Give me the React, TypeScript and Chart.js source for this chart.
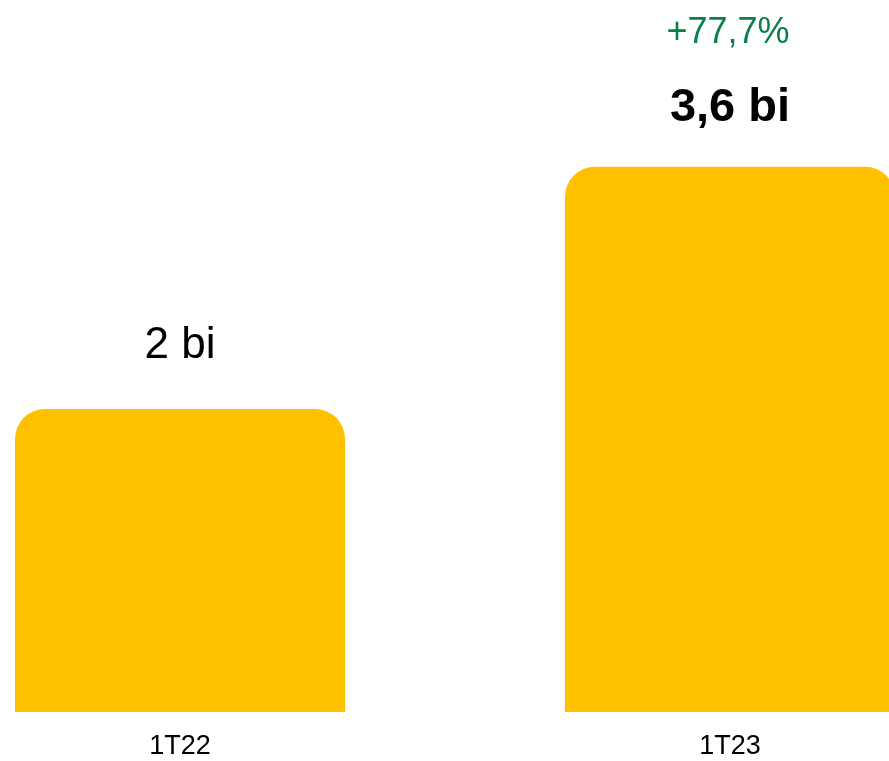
import React, { useEffect, useRef } from "react";
import { Chart, registerables } from "chart.js";

Chart.register(...registerables);

const categories = ["1T22", "1T23"];
const values = [2.0, 3.6];
const valueLabels = ["2 bi", "3,6 bi"];
const growthLabel = "+77,7%";

const FONT = "'Liberation Sans', Arial, sans-serif";
const YELLOW = "#FFC000";
const GREEN = "#0A7F4A";

const labelPlugin = {
  id: "valueLabels",
  afterDatasetsDraw(chart: any) {
    const ctx = chart.ctx;
    const meta = chart.getDatasetMeta(0);
    ctx.save();
    ctx.textAlign = "center";
    ctx.textBaseline = "alphabetic";
    meta.data.forEach((bar: any, i: number) => {
      const isLast = i === meta.data.length - 1;
      ctx.fillStyle = "#000000";
      ctx.font = isLast ? `bold 47px ${FONT}` : `44px ${FONT}`;
      ctx.fillText(valueLabels[i], bar.x, bar.y - (isLast ? 46 : 51));
      if (isLast) {
        ctx.fillStyle = GREEN;
        ctx.font = `36px ${FONT}`;
        ctx.fillText(growthLabel, bar.x - 2, bar.y - 124);
      }
    });
    ctx.restore();
  },
};

export default function App() {
  const ref = useRef<HTMLCanvasElement | null>(null);
  useEffect(() => {
    if (!ref.current) return;
    const chart = new Chart(ref.current, {
      type: "bar",
      data: {
        labels: categories,
        datasets: [
          {
            data: values,
            backgroundColor: YELLOW,
            borderRadius: 30,
            borderSkipped: "start",
            categoryPercentage: 1,
            barPercentage: 0.6,
          },
        ],
      },
      options: {
        animation: false,
        responsive: false,
        devicePixelRatio: 1,
        layout: { padding: 0 },
        plugins: {
          legend: { display: false },
          tooltip: { enabled: false },
        },
        scales: {
          x: {
            grid: { display: false, drawTicks: false },
            border: { display: false },
            ticks: {
              color: "#000000",
              font: { family: FONT, size: 27 },
              padding: 18,
            },
            afterFit(scale: any) {
              scale.height = 49;
            },
          },
          y: {
            display: false,
            min: 0,
            max: 4.7,
          },
        },
      },
      plugins: [labelPlugin],
    });
    return () => chart.destroy();
  }, []);

  return (
    <div
      style={{
        position: "fixed",
        left: 0,
        top: 0,
        width: 889,
        height: 761,
        overflow: "hidden",
        background: "#ffffff",
      }}
    >
      <div style={{ position: "absolute", left: -95, top: 0, width: 1100, height: 761 }}>
        <canvas ref={ref} width={1100} height={761} />
      </div>
    </div>
  );
}
